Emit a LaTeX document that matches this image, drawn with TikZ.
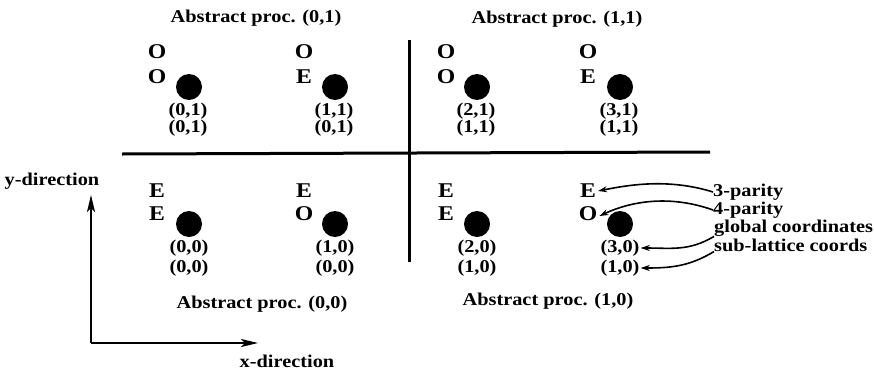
\documentclass[tikz,border=0pt]{standalone}
\usepackage{fontspec}
\setmainfont{Liberation Serif}
\newfontfamily\widefont[FakeStretch=1.13]{Liberation Serif}
\usetikzlibrary{arrows.meta}
\begin{document}
\begin{tikzpicture}[x=1pt,y=-1pt,
  lbl/.style={font=\widefont\fontsize{18}{18}\selectfont\bfseries, inner sep=0pt},
  par/.style={font=\widefont\fontsize{21}{21}\selectfont\bfseries, inner sep=0pt},
  ann/.style={font=\widefont\fontsize{18}{18}\selectfont\bfseries, inner sep=0pt, anchor=west},
  blob/.style={circle, fill=black, minimum size=26pt, inner sep=0pt},
  divider/.style={line width=3pt},
  axis/.style={line width=2.2pt, -{Stealth[length=17pt,width=8pt,inset=4pt]}},
  pointer/.style={line width=1.6pt, -{Stealth[length=9pt,width=6pt]}}]
\useasboundingbox (0,0) rectangle (874,372);

% titles
\node[lbl] (t01) at (256,18) {Abstract proc. (0,1)};
\node[lbl] (t11) at (557,19) {Abstract proc. (1,1)};
\node[lbl] (t00) at (262,304) {Abstract proc. (0,0)};
\node[lbl] (t10) at (548,301) {Abstract proc. (1,0)};

% dividing lines
\coordinate (vt) at (409,40);
\coordinate (vb) at (409,262);
\coordinate (hl) at (122,154);
\coordinate (hr) at (710,152);
\draw[divider] (vt) -- (vb);
\draw[divider] (hl) -- (hr);

% top row cells
\foreach \i/\dx/\lx/\pa/\pb/\ca/\cb in {0/189/157/O/O/{(0,1)}/{(0,1)},
                                       1/335/304/O/E/{(1,1)}/{(0,1)},
                                       2/477/446/O/O/{(2,1)}/{(1,1)},
                                       3/620/588/O/E/{(3,1)}/{(1,1)}}{
  \node[par] (pa-\i-1) at (\lx,52) {\pa};
  \node[par] (pb-\i-1) at (\lx,77) {\pb};
  \node[blob] (d-\i-1) at (\dx,87) {};
  \node[lbl] (ca-\i-1) at (\dx-1,111) {\ca};
  \node[lbl] (cb-\i-1) at (\dx-1,128) {\cb};
}

% bottom row cells
\foreach \i/\dx/\lx/\pa/\pb/\ca/\cb in {0/189/157/E/E/{(0,0)}/{(0,0)},
                                       1/335/304/E/O/{(1,0)}/{(0,0)},
                                       2/477/446/E/E/{(2,0)}/{(1,0)},
                                       3/620/588/E/O/{(3,0)}/{(1,0)}}{
  \node[par] (pa-\i-0) at (\lx,191) {\pa};
  \node[par] (pb-\i-0) at (\lx,214) {\pb};
  \node[blob] (d-\i-0) at (\dx,224) {};
  \node[lbl] (ca-\i-0) at (\dx,248) {\ca};
  \node[lbl] (cb-\i-0) at (\dx,268) {\cb};
}

% axes
\coordinate (o) at (91,343);
\coordinate (ytip) at (91,195);
\coordinate (xtip) at (258,343);
\draw[axis] (o) -- (ytip);
\draw[axis] (o) -- (xtip);
\node[lbl] (ylab) at (52,181) {y-direction};
\node[lbl] (xlab) at (287,361) {x-direction};

% annotations
\node[ann] (p3) at (713,192) {3-parity};
\node[ann] (p4) at (713,210) {4-parity};
\node[ann] (gc) at (714,228) {global coordinates};
\node[ann] (sl) at (714,245) {sub-lattice coords};

\draw[pointer] (p3.west) .. controls +(-45,-14) and +(30,-6) .. ([xshift=2pt]pa-3-0.east);
\draw[pointer] (p4.west) .. controls +(-45,-16) and +(30,-14) .. ([xshift=2pt,yshift=-2pt]pb-3-0.east);
\draw[pointer] (gc.south west) .. controls +(-25,15) and +(30,0) .. ([xshift=1pt]ca-3-0.east);
\draw[pointer] (sl.south west) .. controls +(-25,15) and +(30,0) .. ([xshift=1pt]cb-3-0.east);
\end{tikzpicture}
\end{document}
